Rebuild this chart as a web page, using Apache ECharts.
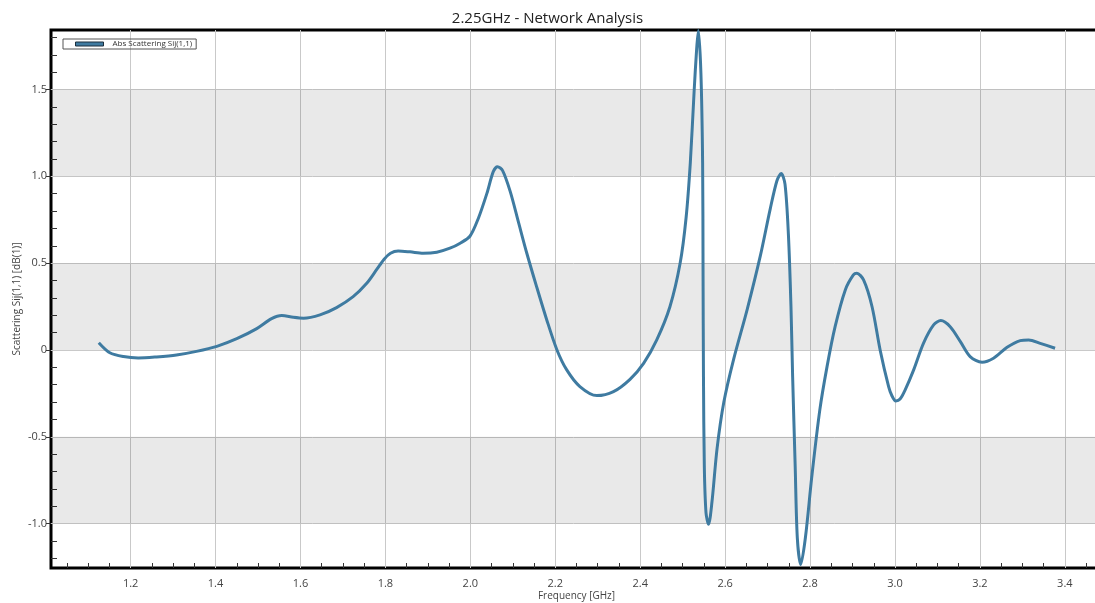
<!DOCTYPE html>
<html>
<head>
<meta charset="utf-8">
<title>2.25GHz - Network Analysis</title>
<script src="https://cdn.jsdelivr.net/npm/echarts@6/dist/echarts.min.js"></script>
<style>
  html, body { margin: 0; padding: 0; background: #fff; }
  #chart { width: 1095px; height: 603px; }
</style>
</head>
<body>
<div id="chart"></div>
<script>
// frequency [GHz]
const freqGHz = [
  1.125, 1.151, 1.183, 1.218, 1.261, 1.308, 1.355, 1.403, 1.450, 1.497,
  1.532, 1.556, 1.583, 1.607, 1.646, 1.685, 1.724, 1.756, 1.780, 1.797,
  1.812, 1.830, 1.858, 1.889, 1.921, 1.952, 1.976, 1.999, 2.019, 2.039,
  2.054, 2.064, 2.076, 2.094, 2.113, 2.133, 2.156, 2.180, 2.204, 2.227,
  2.258, 2.298, 2.337, 2.376, 2.408, 2.439, 2.470, 2.494, 2.508, 2.518,
  2.527, 2.533, 2.537, 2.543, 2.547, 2.548, 2.549, 2.551, 2.555, 2.561,
  2.569, 2.581, 2.597, 2.620, 2.652, 2.683, 2.706, 2.722, 2.732, 2.741,
  2.749, 2.755, 2.759, 2.765, 2.770, 2.778, 2.789, 2.804, 2.823, 2.840,
  2.859, 2.883, 2.902, 2.910, 2.926, 2.946, 2.965, 2.985, 2.993, 3.002,
  3.012, 3.024, 3.044, 3.067, 3.091, 3.108, 3.130, 3.154, 3.177, 3.205,
  3.232, 3.264, 3.295, 3.315, 3.342, 3.377
]
// Abs Scattering Sij(1,1) [dB(1)]
const absS11 = [
  0.042, -0.016, -0.038, -0.046, -0.040, -0.029, -0.008, 0.021, 0.065, 0.123,
  0.180, 0.198, 0.188, 0.183, 0.202, 0.244, 0.307, 0.384, 0.465, 0.523,
  0.557, 0.570, 0.565, 0.557, 0.563, 0.586, 0.615, 0.655, 0.759, 0.902,
  1.027, 1.056, 1.033, 0.912, 0.739, 0.557, 0.365, 0.173, 0.000, -0.115,
  -0.211, -0.263, -0.240, -0.169, -0.077, 0.058, 0.249, 0.499, 0.760, 1.078,
  1.490, 1.736, 1.840, 1.592, 1.078, 0.461, -0.155, -0.671, -0.938, -1.004,
  -0.876, -0.568, -0.300, -0.054, 0.234, 0.543, 0.810, 0.975, 1.016, 0.955,
  0.666, 0.255, -0.156, -0.671, -1.082, -1.236, -1.082, -0.732, -0.345, -0.096,
  0.134, 0.346, 0.432, 0.442, 0.403, 0.249, 0.000, -0.211, -0.265, -0.294,
  -0.283, -0.230, -0.115, 0.038, 0.144, 0.169, 0.134, 0.048, -0.038, -0.071,
  -0.048, 0.015, 0.054, 0.058, 0.038, 0.010
]
const xLabels = [1.2, 1.4, 1.6, 1.8, 2.0, 2.2, 2.4, 2.6, 2.8, 3.0, 3.2, 3.4]
const xMinorTicks = [1.05, 1.1, 1.15, 1.25, 1.3, 1.35, 1.45, 1.5, 1.55, 1.65, 1.7, 1.75,
  1.85, 1.9, 1.95, 2.05, 2.1, 2.15, 2.25, 2.3, 2.35, 2.45, 2.5, 2.55, 2.65, 2.7, 2.75,
  2.85, 2.9, 2.95, 3.05, 3.1, 3.15, 3.25, 3.3, 3.35, 3.45]
const yLabels = [-1.0, -0.5, 0, 0.5, 1.0, 1.5]
const yMinorTicks = [-1.2, -1.1, -0.9, -0.8, -0.7, -0.6, -0.4, -0.3, -0.2, -0.1,
  0.1, 0.2, 0.3, 0.4, 0.6, 0.7, 0.8, 0.9, 1.1, 1.2, 1.3, 1.4, 1.6, 1.7, 1.8]
// shaded bands [from, to]
const bands = [[1.0, 1.5], [0, 0.5], [-1.0, -0.5]]

const xMin = 1.0125, xMax = 3.4875
const yMin = -1.256, yMax = 1.843
const font = 'Open Sans'

let myChart = echarts.init(document.getElementById('chart'))
let option = {
  animation: false,
  title: {
    text: '2.25GHz - Network Analysis',
    left: 'center',
    top: 6,
    textStyle: { fontFamily: font, fontSize: 15, fontWeight: 'normal', color: '#222' }
  },
  legend: {
    left: 63,
    top: 39,
    padding: [1, 4, 1, 12],
    borderColor: '#555',
    borderWidth: 1,
    itemWidth: 28,
    itemHeight: 4,
    icon: 'rect',
    itemStyle: { borderColor: '#1c2f3c', borderWidth: 1 },
    textStyle: { fontFamily: font, fontSize: 8, color: '#333', padding: [0, 0, 0, 4] },
    data: ['Abs Scattering Sij(1,1)']
  },
  grid: {
    left: 51,
    top: 30,
    width: 1051,
    height: 538,
    containLabel: false,
    outerBoundsMode: 'none',
    show: true,
    borderColor: '#000',
    borderWidth: 3,
    backgroundColor: 'transparent'
  },
  xAxis: [
    {
      type: 'value',
      min: xMin,
      max: xMax,
      name: 'Frequency [GHz]',
      nameLocation: 'middle',
      nameGap: 23,
      nameMoveOverlap: false,
      nameTextStyle: { fontFamily: font, fontSize: 10, color: '#444' },
      axisLine: { show: false, onZero: false },
      axisTick: { show: false, customValues: xLabels },
      axisLabel: {
        customValues: xLabels,
        margin: 10,
        fontFamily: font,
        fontSize: 11,
        color: '#444',
        formatter: v => v.toFixed(1)
      },
      splitLine: { show: true, lineStyle: { color: '#c9c9c9', width: 1 } }
    },
    {
      type: 'value',
      min: xMin,
      max: xMax,
      position: 'bottom',
      axisLine: { show: false, onZero: false },
      axisTick: { show: true, inside: true, length: 5, customValues: xMinorTicks, lineStyle: { color: '#333' } },
      axisLabel: { show: false },
      splitLine: { show: false }
    }
  ],
  yAxis: [
    {
      type: 'value',
      min: yMin,
      max: yMax,
      name: 'Scattering Sij(1,1) [dB(1)]',
      nameLocation: 'middle',
      nameGap: 29,
      nameMoveOverlap: false,
      nameTextStyle: { fontFamily: font, fontSize: 10, color: '#444' },
      axisLine: { show: false, onZero: false },
      axisTick: { show: true, length: 5, customValues: yLabels, lineStyle: { color: '#333' } },
      axisLabel: {
        customValues: yLabels,
        margin: 4,
        fontFamily: font,
        fontSize: 11,
        color: '#444',
        formatter: v => (v === 0 ? '0' : v.toFixed(1))
      },
      splitLine: { show: true, lineStyle: { color: '#c9c9c9', width: 1 } }
    },
    {
      type: 'value',
      min: yMin,
      max: yMax,
      position: 'left',
      axisLine: { show: false, onZero: false },
      axisTick: { show: true, inside: true, length: 6, customValues: yMinorTicks, lineStyle: { color: '#333' } },
      axisLabel: { show: false },
      splitLine: { show: false }
    }
  ],
  series: [
    {
      name: 'Abs Scattering Sij(1,1)',
      type: 'line',
      xAxisIndex: 0,
      yAxisIndex: 0,
      data: freqGHz.map((f, i) => [f, absS11[i]]),
      showSymbol: false,
      smooth: 0.3,
      clip: true,
      lineStyle: { color: '#3f7ba1', width: 3 },
      itemStyle: { color: '#3f7ba1' },
      markArea: {
        silent: true,
        label: { show: false },
        itemStyle: { color: 'rgba(0, 0, 0, 0.088)' },
        data: bands.map(b => [{ yAxis: b[0] }, { yAxis: b[1] }])
      }
    }
  ]
}
myChart.setOption(option)
</script>
</body>
</html>
